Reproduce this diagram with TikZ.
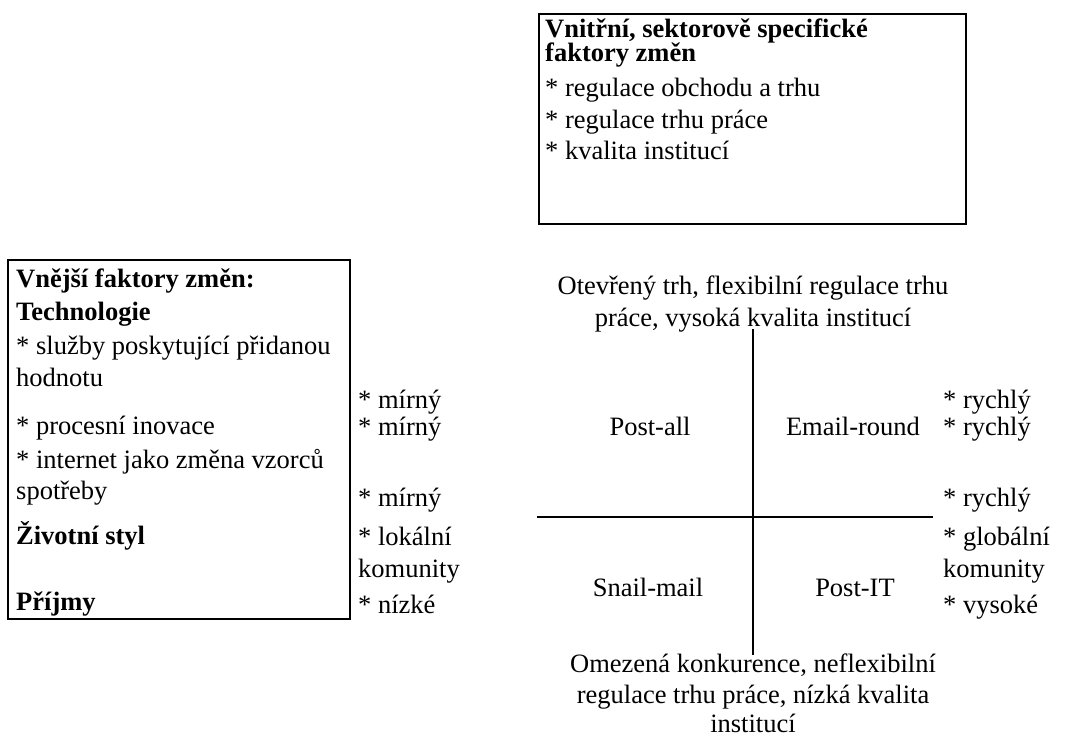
\documentclass[tikz,border=0pt]{standalone}
\usepackage{fontspec}
\setmainfont{Liberation Serif}
\newcommand{\figfont}{\fontsize{26.5}{30}\selectfont}
\begin{document}
\begin{tikzpicture}[x=1pt,y=-1pt,line join=miter,font=\figfont,
  txt/.style={inner sep=0pt,anchor=base west,font=\figfont},
  hd/.style={txt,font=\figfont\bfseries},
  mid/.style={inner sep=0pt,anchor=base,font=\figfont},
  frame/.style={draw=black,line width=2.2pt},
  axis/.style={draw=black,line width=2pt}]
\useasboundingbox (0,0) rectangle (1085,740);
% inner, sector-specific factors
\draw[frame] (539,14) rectangle (966,224);
\node[hd] (in1) at (545,37) {Vnitřní, sektorově specifické};
\node[hd] (in2) at (545,61) {faktory změn};
\foreach \t/\yy [count=\i] in {{* regulace obchodu a trhu}/96,{* regulace trhu práce}/128,{* kvalita institucí}/159}
  \node[txt] (it\i) at (545,\yy) {\t};
% outer factors
\draw[frame] (8,260) rectangle (350,619);
\node[hd] (ex1) at (16,287) {Vnější faktory změn:};
\node[hd] (ex2) at (16,320) {Technologie};
\node[txt] (ex3) at (16,354) {* služby poskytující přidanou};
\node[txt] (ex4) at (16,386) {hodnotu};
\node[txt] (ex5) at (16,434) {* procesní inovace};
\node[txt] (ex6) at (16,468) {* internet jako změna vzorců};
\node[txt] (ex7) at (16,499) {spotřeby};
\node[hd] (ex8) at (16,544) {Životní styl};
\node[hd] (ex9) at (16,610) {Příjmy};
% left and right values
\foreach \t/\yy [count=\i] in {{* mírný}/408,{* mírný}/435,{* mírný}/506,{* lokální}/545,komunity/577,{* nízké}/613}
  \node[txt] (lv\i) at (358,\yy) {\t};
\foreach \t/\yy [count=\i] in {{* rychlý}/408,{* rychlý}/435,{* rychlý}/506,{* globální}/545,komunity/577,{* vysoké}/613}
  \node[txt] (rv\i) at (943,\yy) {\t};
% cross of scenarios
\coordinate (axN) at (753,329);
\coordinate (axS) at (753,655);
\coordinate (axW) at (537,517);
\coordinate (axE) at (933,517);
\draw[axis] (axN) -- (axS);
\draw[axis] (axW) -- (axE);
\node[mid] (top1) at (753,294) {Otevřený trh, flexibilní regulace trhu};
\node[mid] (top2) at (753,326) {práce, vysoká kvalita institucí};
\node[mid] (bot1) at (753,672) {Omezená konkurence, neflexibilní};
\node[mid] (bot2) at (753,703) {regulace trhu práce, nízká kvalita};
\node[mid] (bot3) at (753,732) {institucí};
\node[mid] (qNW) at (650,435) {Post-all};
\node[mid] (qNE) at (853,435) {Email-round};
\node[mid] (qSW) at (648,596) {Snail-mail};
\node[mid] (qSE) at (855,596) {Post-IT};
\end{tikzpicture}
\end{document}
